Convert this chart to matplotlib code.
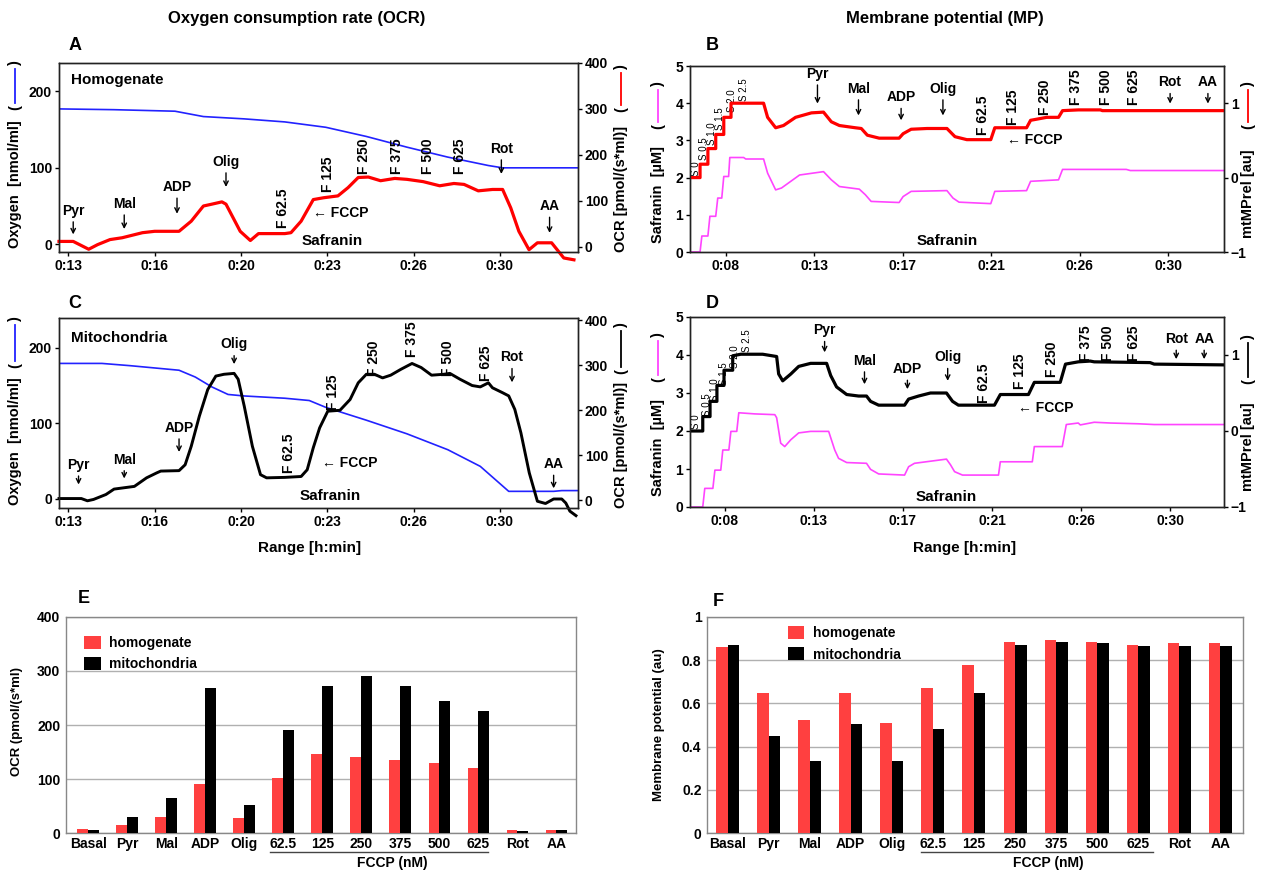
import matplotlib
matplotlib.use('Agg')
import matplotlib.pyplot as plt
from matplotlib.lines import Line2D
import matplotlib.transforms as mtransforms

plt.rcParams['font.family'] = ['Liberation Sans', 'DejaVu Sans']
plt.rcParams['font.weight'] = 'bold'

# ---------------- DATA ----------------
# Panel A (homogenate): OCR [pmol/(s*ml)] and oxygen [nmol/ml] vs time [min]
A_ocr_t = [12.63, 13.19, 13.8, 14.15, 14.64, 15.12, 15.92, 16.40, 17.36, 17.84, 18.32, 18.65, 19.05, 19.21,
           19.77, 20.17, 20.49, 21.53, 21.77, 22.17, 22.65, 23.06, 23.62, 24.02, 24.42, 24.82, 25.30, 25.86,
           26.34, 26.98, 27.63, 28.19, 28.59, 29.15, 29.71, 30.11, 30.43, 30.75, 31.15, 31.48, 32.04, 32.52, 32.92]
A_ocr = [12, 12, -5, 5, 16, 20, 31, 34, 34, 56, 89, 93, 98, 93,
         34, 14, 29, 29, 31, 56, 103, 107, 111, 129, 151, 152, 144, 149,
         147, 142, 133, 138, 136, 122, 125, 125, 85, 34, -6, 9, 9, -24, -28]
A_o2_t = [12.63, 14.79, 17.2, 18.32, 19.92, 21.53, 23.14, 24.74, 26.34, 27.95, 29.55, 30.11, 33.08]
A_o2 = [177, 176, 174, 167, 164, 160, 153, 141, 127, 114, 103, 100, 100]

# Panel C (mitochondria)
C_ocr_t = [12.63, 13.51, 13.75, 13.99, 14.48, 14.80, 15.60, 16.08, 16.48, 16.64,
           17.36, 17.60, 17.84, 18.16, 18.49, 18.81, 19.13, 19.53, 19.69, 19.93,
           20.25, 20.57, 20.81, 21.53, 22.17, 22.41, 22.65, 22.90, 23.22, 23.70,
           24.10, 24.42, 24.74, 25.06, 25.38, 25.70, 26.10, 26.54, 26.90, 27.31,
           27.79, 28.03, 28.43, 28.91, 29.23, 29.55, 29.71, 30.11, 30.35, 30.59,
           30.83, 31.16, 31.48, 31.80, 32.12, 32.44, 32.60, 32.76, 33.00]
C_ocr = [4, 4, -1, 2, 13, 25, 31, 50, 61, 65,
         66, 79, 120, 187, 246, 276, 280, 282, 269, 209,
         120, 57, 50, 51, 53, 68, 117, 161, 198, 200,
         224, 261, 280, 280, 272, 278, 291, 304, 295, 278,
         280, 282, 269, 255, 252, 261, 250, 239, 232, 202,
         150, 61, -2, -7, 3, 3, -6, -24, -34]
C_o2_t = [12.63, 14.32, 15.44, 17.36, 18.0, 18.65, 19.29, 19.93, 21.53, 22.49, 23.14, 24.74, 26.34,
          27.95, 29.23, 30.35, 32.12, 32.44, 33.08]
C_o2 = [179, 179, 176, 170, 161, 148, 138, 136, 133, 130, 121, 104, 86, 65, 43, 10, 10, 11, 11]

# Panel B (homogenate): mtMPrel [au] (red) and safranin [uM] (magenta)
B_mp_t = [6.22, 6.72, 6.72, 7.11, 7.11, 7.50, 7.50, 7.90, 7.90, 8.26, 8.26, 9.88,
          10.08, 10.48, 10.87, 11.47, 12.26, 12.86, 13.25, 13.65, 14.44, 14.74, 15.04, 15.63,
          16.62, 16.82, 17.22, 18.01, 19.00, 19.40, 19.99, 21.18, 21.38, 22.96, 23.16, 23.96,
          24.55, 24.75, 25.54, 26.63, 26.73, 32.78]
B_mp = [0, 0, .18, .18, .39, .39, .58, .58, .81, .81, 1, 1,
        .81, .67, .70, .81, .87, .88, .75, .70, .67, .66, .57, .53,
        .53, .59, .65, .66, .66, .55, .51, .51, .67, .67, .77, .81,
        .81, .90, .91, .91, .90, .90]
B_saf_t = [6.22, 6.72, 6.81, 7.11, 7.21, 7.50, 7.60, 7.80, 7.90, 8.14,
           8.20, 8.89, 8.99, 9.88, 10.08, 10.48, 10.77, 11.67, 12.86, 13.25,
           13.65, 14.64, 14.94, 15.23, 16.62, 16.82, 17.22, 19.0, 19.30, 19.60,
           21.18, 21.38, 22.96, 23.16, 24.55, 24.75, 27.92, 28.12, 32.78]
B_saf = [0, 0, .43, .43, .96, .96, 1.45, 1.45, 2.03, 2.03,
         2.54, 2.54, 2.50, 2.50, 2.12, 1.67, 1.72, 2.07, 2.16, 1.94,
         1.76, 1.69, 1.54, 1.36, 1.33, 1.49, 1.63, 1.65, 1.45, 1.34,
         1.30, 1.63, 1.65, 1.90, 1.94, 2.22, 2.22, 2.19, 2.19]

# Panel D (mitochondria)
D_mp_t = [6.28, 6.91, 6.91, 7.27, 7.27, 7.61, 7.61, 7.96, 7.96, 8.39,
          8.39, 8.79, 9.87, 10.56, 10.66, 10.86, 11.26, 11.65, 12.24, 13.03,
          13.23, 13.52, 14.02, 14.61, 15.00, 15.20, 15.60, 16.88, 17.08, 17.57,
          18.16, 18.95, 19.25, 19.54, 21.32, 21.61, 23.00, 23.29, 24.57, 24.83,
          25.46, 26.05, 26.25, 29.01, 29.21, 32.66]
D_mp = [0, 0, .19, .19, .39, .39, .60, .60, .80, .80,
        .99, 1.01, 1.01, .98, .75, .66, .75, .85, .89, .89,
        .73, .58, .48, .46, .46, .39, .34, .34, .42, .46,
        .50, .50, .39, .34, .34, .48, .48, .64, .64, .88,
        .91, .92, .91, .90, .88, .87]
D_saf_t = [6.28, 6.91, 7.01, 7.41, 7.51, 7.80, 7.90, 8.20, 8.30, 8.59,
           8.69, 9.48, 10.47, 10.56, 10.76, 10.96, 11.26, 11.65, 12.24, 13.13,
           13.43, 13.62, 14.02, 15.0, 15.20, 15.60, 16.88, 17.08, 17.37, 18.95,
           19.15, 19.35, 19.74, 21.52, 21.61, 23.19, 23.29, 24.67, 24.87, 25.46,
           25.56, 26.25, 27.04, 28.42, 29.21, 32.66]
D_saf = [0, 0, .49, .49, .97, .97, 1.5, 1.5, 1.99, 1.99,
         2.48, 2.45, 2.43, 2.35, 1.68, 1.59, 1.77, 1.95, 1.99, 1.99,
         1.5, 1.28, 1.17, 1.15, .99, .87, .84, 1.06, 1.15, 1.26,
         1.11, .93, .84, .84, 1.19, 1.19, 1.59, 1.59, 2.17, 2.21,
         2.16, 2.23, 2.21, 2.19, 2.17, 2.17]

# Tick labels of time axes
AC_ticks = [13, 16.4, 19.8, 23.2, 26.6, 30.0]
AC_labels = ['0:13', '0:16', '0:20', '0:23', '0:26', '0:30']
BD_ticks = [8, 12.4, 16.8, 21.2, 25.6, 30.0]
BD_labels = ['0:08', '0:13', '0:17', '0:21', '0:26', '0:30']

# Bar panels E and F
categories = ['Basal', 'Pyr', 'Mal', 'ADP', 'Olig', '62.5', '125', '250', '375', '500', '625', 'Rot', 'AA']
E_hom = [7, 15, 30, 91, 28, 102, 146, 140, 135, 130, 121, 5, 5]
E_mit = [6, 30, 64, 268, 51, 191, 272, 290, 272, 245, 226, 4, 5]
F_hom = [0.862, 0.65, 0.523, 0.65, 0.51, 0.67, 0.78, 0.885, 0.892, 0.885, 0.872, 0.88, 0.88]
F_mit = [0.872, 0.45, 0.334, 0.505, 0.334, 0.48, 0.65, 0.872, 0.885, 0.88, 0.866, 0.866, 0.866]

# Annotation labels (label, x, text y, arrow tip y) / (label, x, bottom y)
A_arrows = [('Pyr', 13.19, 44, 13), ('Mal', 15.2, 53, 20), ('ADP', 17.28, 75, 40),
            ('Olig', 19.21, 108, 75), ('Rot', 30.06, 125, 92), ('AA', 31.96, 50, 15)]
A_vert = [('F 62.5', 21.45, 22), ('F 125', 23.22, 68), ('F 250', 24.66, 92),
          ('F 375', 25.94, 92), ('F 500', 27.15, 92), ('F 625', 28.43, 92)]
C_arrows = [('Pyr', 13.4, 45, 19), ('Mal', 15.2, 52, 27), ('ADP', 17.36, 94, 62),
            ('Olig', 19.53, 204, 178), ('Rot', 30.48, 187, 154), ('AA', 32.12, 46, 14)]
C_vert = [('F 62.5', 21.69, 34), ('F 125', 23.42, 117), ('F 250', 25.06, 163),
          ('F 375', 26.54, 187), ('F 500', 27.95, 163), ('F 625', 29.44, 156)]
B_arrows = [('Pyr', 12.56, 4.79, 3.99), ('Mal', 14.6, 4.39, 3.67), ('ADP', 16.72, 4.16, 3.54),
            ('Olig', 18.8, 4.39, 3.67), ('Rot', 30.1, 4.56, 3.99), ('AA', 31.98, 4.56, 3.99)]
B_vert = [('F 62.5', 20.78, 3.14), ('F 125', 22.27, 3.41), ('F 250', 23.86, 3.67),
          ('F 375', 25.44, 3.94), ('F 500', 26.93, 3.94), ('F 625', 28.32, 3.94)]
B_s = [('S 0', 6.51, 2.03), ('S 0.5', 6.91, 2.47), ('S 1.0', 7.31, 2.87),
       ('S 1.5', 7.70, 3.27), ('S 2.0', 8.30, 3.76), ('S 2.5', 8.93, 4.07)]
D_arrows = [('Pyr', 12.93, 4.65, 4.07), ('Mal', 14.9, 3.85, 3.23), ('ADP', 17.02, 3.63, 3.10),
            ('Olig', 19.01, 3.94, 3.32), ('Rot', 30.3, 4.42, 3.89), ('AA', 31.68, 4.42, 3.89)]
D_vert = [('F 62.5', 20.82, 2.74), ('F 125', 22.6, 3.1), ('F 250', 24.18, 3.41),
          ('F 375', 25.86, 3.85), ('F 500', 26.94, 3.85), ('F 625', 28.22, 3.85)]
D_s = [('S 0', 6.58, 2.04), ('S 0.5', 7.11, 2.39), ('S 1.0', 7.52, 2.79),
       ('S 1.5', 7.95, 3.2), ('S 2.0', 8.49, 3.67), ('S 2.5', 9.09, 4.07)]

# ---------------- FIGURE ----------------
W, H = 1261, 872
fig = plt.figure(figsize=(W / 100, H / 100), dpi=100)
fig.patch.set_facecolor('white')

RED = '#ff0000'
BLUE = '#2222ff'
MAG = '#ff44ff'
BARRED = '#ff4040'


def ax_at(l, t, r, b):
    return fig.add_axes([l / W, 1 - b / H, (r - l) / W, (b - t) / H])


def ftext(x, y, s, **kw):
    return fig.text(x / W, 1 - y / H, s, **kw)


def side_label(x, ybot, text, yb1, yb2, color, fs=10.5):
    ftext(x, ybot, text, rotation=90, rotation_mode='anchor', ha='left', va='center', fontsize=fs)
    ftext(x, yb1, '(', rotation=90, rotation_mode='anchor', ha='center', va='center', fontsize=fs)
    ftext(x, yb2, ')', rotation=90, rotation_mode='anchor', ha='center', va='center', fontsize=fs)
    fig.add_artist(Line2D([x / W, x / W], [1 - (yb1 - 5) / H, 1 - (yb2 + 5) / H], color=color, lw=1.3))


def style_line(ax, ax2):
    for a in (ax, ax2):
        for s in a.spines.values():
            s.set_color('#222222')
            s.set_linewidth(1.0)
        a.tick_params(direction='out', length=3, width=1, labelsize=10, pad=2)


def annotate(ax, arrows, verts, fs=10):
    for lab, x, yt, ytip in arrows:
        ax.annotate(lab, xy=(x, ytip), xytext=(x, yt), ha='center', va='center', fontsize=fs,
                    arrowprops=dict(arrowstyle='->', lw=1.0, color='black', shrinkA=1, shrinkB=0,
                                    mutation_scale=8))
    for lab, x, yb in verts:
        ax.text(x, yb, lab, rotation=90, ha='center', va='bottom', fontsize=fs)


# ---- Panel A
axA = ax_at(59, 63, 578, 252)
axA2 = axA.twinx()
axA.plot(A_o2_t, A_o2, color=BLUE, lw=1.2)
axA2.plot(A_ocr_t, A_ocr, color=RED, lw=2.3, clip_on=False)
axA.set_xlim(12.63, 33.08)
axA.set_ylim(-10, 237)
axA2.set_ylim(-11, 399)
axA.set_yticks([0, 100, 200])
axA2.set_yticks([0, 100, 200, 300, 400])
axA.set_xticks(AC_ticks)
axA.set_xticklabels(AC_labels)
style_line(axA, axA2)
annotate(axA, A_arrows, A_vert)
axA.text(13.1, 215, 'Homogenate', fontsize=11, va='center', ha='left')
axA.text(22.65, 41, '\u2190 FCCP', fontsize=10, va='center', ha='left')
axA.text(23.38, 4, 'Safranin', fontsize=11, va='center', ha='center')

# ---- Panel C
axC = ax_at(59, 318, 578, 508)
axC2 = axC.twinx()
axC.plot(C_o2_t, C_o2, color=BLUE, lw=1.2)
axC2.plot(C_ocr_t, C_ocr, color='black', lw=2.1, clip_on=False)
axC.set_xlim(12.63, 33.08)
axC.set_ylim(-12, 239)
axC2.set_ylim(-17, 405)
axC.set_yticks([0, 100, 200])
axC2.set_yticks([0, 100, 200, 300, 400])
axC.set_xticks(AC_ticks)
axC.set_xticklabels(AC_labels)
style_line(axC, axC2)
annotate(axC, C_arrows, C_vert)
axC.text(13.1, 213, 'Mitochondria', fontsize=11, va='center', ha='left')
axC.text(22.98, 47, '\u2190 FCCP', fontsize=10, va='center', ha='left')
axC.text(23.3, 4, 'Safranin', fontsize=11, va='center', ha='center')

# ---- Panel B
axB = ax_at(690, 66, 1224, 252)
axB2 = axB.twinx()
axB.plot(B_saf_t, B_saf, color=MAG, lw=1.2)
axB2.plot(B_mp_t, B_mp, color=RED, lw=2.3)
axB.set_xlim(6.22, 32.78)
axB.set_ylim(0, 5)
axB2.set_ylim(-1, 1.5)
axB.set_yticks([0, 1, 2, 3, 4, 5])
axB2.set_yticks([-1, 0, 1])
axB.set_xticks(BD_ticks)
axB.set_xticklabels(BD_labels)
style_line(axB, axB2)
annotate(axB, B_arrows, B_vert)
for lab, x, yb in B_s:
    axB.text(x, yb, lab, rotation=90, ha='center', va='bottom', fontsize=7, fontweight='normal')
axB.text(21.97, 3.0, '\u2190 FCCP', fontsize=10, va='center', ha='left')
axB.text(19.0, 0.29, 'Safranin', fontsize=11, va='center', ha='center')

# ---- Panel D
axD = ax_at(690, 317, 1224, 507)
axD2 = axD.twinx()
axD.plot(D_saf_t, D_saf, color=MAG, lw=1.2)
axD2.plot(D_mp_t, D_mp, color='black', lw=2.3)
axD.set_xlim(6.28, 32.66)
axD.set_ylim(0, 5)
axD2.set_ylim(-1, 1.5)
axD.set_yticks([0, 1, 2, 3, 4, 5])
axD2.set_yticks([-1, 0, 1])
axD.set_xticks(BD_ticks)
axD.set_xticklabels(BD_labels)
style_line(axD, axD2)
annotate(axD, D_arrows, D_vert)
for lab, x, yb in D_s:
    axD.text(x, yb, lab, rotation=90, ha='center', va='bottom', fontsize=7, fontweight='normal')
axD.text(22.5, 2.61, '\u2190 FCCP', fontsize=10, va='center', ha='left')
axD.text(18.95, 0.27, 'Safranin', fontsize=11, va='center', ha='center')

# ---- side labels with line-key brackets
side_label(15, 248, 'Oxygen  [nmol/ml]', 108, 64, BLUE)
side_label(621, 252, 'OCR [pmol/(s*ml)]', 110, 68, RED)
side_label(15, 505, 'Oxygen  [nmol/ml]', 366, 320, BLUE)
side_label(621, 508, 'OCR [pmol/(s*ml)]', 372, 326, 'black')
side_label(658, 243, 'Safranin  [\u00b5M]', 127, 85, MAG)
side_label(1248, 238, 'mtMPrel [au]', 127, 85, RED)
side_label(658, 496, 'Safranin  [\u00b5M]', 380, 336, MAG)
side_label(1248, 491, 'mtMPrel [au]', 382, 338, 'black')

ftext(310, 548, 'Range [h:min]', ha='center', va='center', fontsize=11)
ftext(965, 548, 'Range [h:min]', ha='center', va='center', fontsize=11)

# ---- titles and panel letters
ftext(297, 18, 'Oxygen consumption rate (OCR)', ha='center', va='center', fontsize=12)
ftext(945, 18, 'Membrane potential (MP)', ha='center', va='center', fontsize=12)
for L, x, y in [('A', 75, 45), ('B', 712, 45), ('C', 75, 303), ('D', 712, 303), ('E', 84, 598), ('F', 718, 601)]:
    ftext(x, y, L, ha='center', va='center', fontsize=13)


# ---- bar panels
def bar_panel(ax, hom, mit, ylim, yticks, yticklabels, xlim, ul, legend_xy):
    xs = list(range(len(categories)))
    w = 0.28
    ax.bar([x - w / 2 for x in xs], hom, width=w, color=BARRED, label='homogenate', zorder=3)
    ax.bar([x + w / 2 for x in xs], mit, width=w, color='black', label='mitochondria', zorder=3)
    ax.set_xlim(*xlim)
    ax.set_ylim(*ylim)
    ax.set_yticks(yticks)
    ax.set_yticklabels(yticklabels)
    ax.set_xticks(xs)
    ax.set_xticklabels(categories)
    ax.yaxis.grid(True, color='#b0b0b0', lw=1, zorder=0)
    ax.set_axisbelow(True)
    for s in ax.spines.values():
        s.set_color('#888888')
        s.set_linewidth(1.0)
    ax.tick_params(axis='x', length=0, labelsize=10, pad=3)
    ax.tick_params(axis='y', length=0, labelsize=10, pad=4)
    trans = mtransforms.blended_transform_factory(ax.transData, ax.transAxes)
    ax.plot([ul[0], ul[1]], [-0.088, -0.088], color='#444444', lw=1, transform=trans, clip_on=False)
    ax.text(7.8, -0.14, 'FCCP (nM)', transform=trans, ha='center', va='center', fontsize=10)
    ax.legend(loc='upper left', bbox_to_anchor=legend_xy, frameon=False, fontsize=10,
              handlelength=1.2, handleheight=1.1, handletextpad=0.6, labelspacing=0.5, borderaxespad=0)


axE = ax_at(66, 617, 576, 833)
bar_panel(axE, E_hom, E_mit, (0, 400), [0, 100, 200, 300, 400], ['0', '100', '200', '300', '400'],
          (-0.57, 12.5), (4.65, 10.25), (0.025, 0.94))
ftext(17, 721, 'OCR (pmol/(s*ml)', rotation=90, ha='center', va='center', fontsize=9.5)

axF = ax_at(707, 617, 1243, 833)
bar_panel(axF, F_hom, F_mit, (0, 1), [0, 0.2, 0.4, 0.6, 0.8, 1.0], ['0', '0.2', '0.4', '0.6', '0.8', '1'],
          (-0.5, 12.55), (4.71, 10.35), (0.14, 0.985))
ftext(659, 725, 'Membrane potential (au)', rotation=90, ha='center', va='center', fontsize=9.5)

fig.savefig('out.png', dpi=100, facecolor='white')
